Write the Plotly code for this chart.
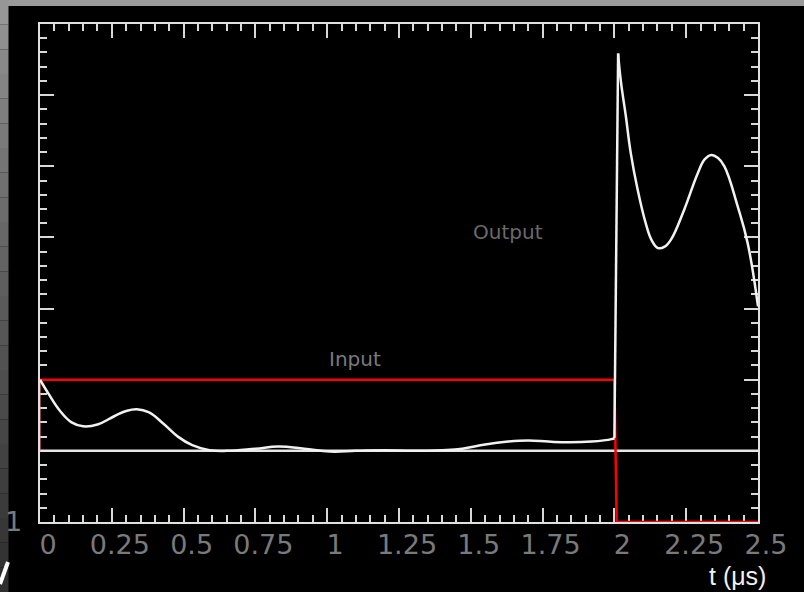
import plotly.graph_objects as go

# ---------------- data ----------------
x_tick_vals = [0, 0.25, 0.5, 0.75, 1, 1.25, 1.5, 1.75, 2, 2.25, 2.5]
x_tick_text = ["0", "0.25", "0.5", "0.75", "1", "1.25", "1.5", "1.75", "2", "2.25", "2.5"]

# Input (red step)
input_t = [0.0, 0.0, 2.0, 2.008, 2.5]
input_v = [1.0, 2.0, 2.0, 0.0, 0.0]

# Baseline (white)
base_t = [0.0, 2.5]
base_v = [1.0, 1.0]

# Output, part 1 (before the switch)
out1_t = [0.0, 0.03, 0.07, 0.11, 0.15, 0.20, 0.26, 0.30, 0.337, 0.38, 0.43, 0.48,
          0.53, 0.59, 0.65, 0.75, 0.83, 0.92, 1.01, 1.10, 1.20, 1.30, 1.40, 1.47,
          1.55, 1.63, 1.70, 1.77, 1.84, 1.92, 1.99, 2.0]
out1_v = [2.0, 1.80, 1.56, 1.40, 1.345, 1.37, 1.49, 1.56, 1.585, 1.54, 1.38, 1.20,
          1.08, 1.01, 1.00, 1.03, 1.06, 1.03, 0.99, 1.00, 1.01, 1.00, 1.01, 1.03,
          1.09, 1.13, 1.145, 1.13, 1.12, 1.13, 1.165, 1.18]

# Output, jump
jump_t = [2.0, 2.013]
jump_v = [1.18, 6.585]

# Output, part 2 (after the switch)
out2_t = [2.013, 2.022, 2.040, 2.057, 2.081, 2.109, 2.130, 2.152, 2.175, 2.197, 2.243, 2.290,
          2.315, 2.338, 2.360, 2.383, 2.429, 2.464, 2.5]
out2_v = [6.585, 6.21, 5.70, 5.185, 4.67, 4.20, 3.96, 3.85, 3.87, 3.97, 4.39, 4.90,
          5.10, 5.16, 5.12, 5.00, 4.44, 3.92, 3.03]

# ---------------- layout geometry ----------------
W, H = 804, 592
L, R, T, B = 40, 46, 24, 70
PW, PH = W - L - R, H - T - B


def px(x):
    return (x - L) / PW


def py(y):
    return (H - B - y) / PH


fig = go.Figure()
fig.add_trace(go.Scatter(x=base_t, y=base_v, mode="lines",
                         line=dict(color="#e6e6e6", width=2.5), hoverinfo="skip"))
# faint left edge of the input step (sits on the frame)
fig.add_trace(go.Scatter(x=input_t[:2], y=input_v[:2], mode="lines",
                         line=dict(color="rgba(255,120,120,0.55)", width=2), hoverinfo="skip"))
fig.add_trace(go.Scatter(x=input_t[1:], y=input_v[1:], mode="lines",
                         line=dict(color="#ff0000", width=2.5), hoverinfo="skip"))
fig.add_trace(go.Scatter(x=out1_t, y=out1_v, mode="lines",
                         line=dict(color="#f2f2f2", width=2.5, shape="spline", smoothing=1.2),
                         hoverinfo="skip"))
fig.add_trace(go.Scatter(x=jump_t, y=jump_v, mode="lines",
                         line=dict(color="#f2f2f2", width=2.5), hoverinfo="skip"))
fig.add_trace(go.Scatter(x=out2_t, y=out2_v, mode="lines",
                         line=dict(color="#f2f2f2", width=2.5, shape="spline", smoothing=1.2),
                         hoverinfo="skip"))

axis_common = dict(
    showline=True, linecolor="#e0e0e0", linewidth=2, mirror="allticks",
    ticks="inside", ticklen=14, tickwidth=1.5, tickcolor="#d8d8d8",
    showgrid=False, zeroline=False, layer="below traces", automargin=False,
)

fig.update_xaxes(
    range=[0, 2.5], tickmode="array", tickvals=x_tick_vals, ticktext=x_tick_text,
    tickfont=dict(family="DejaVu Sans", size=27, color="#7a7a7a"),
    ticklabelstandoff=-2, ticklabelshift=8,
    minor=dict(ticks="inside", ticklen=7, tickwidth=1.5, tickcolor="#d8d8d8",
               tickmode="linear", tick0=0, dtick=0.05, showgrid=False),
    **axis_common,
)
fig.update_yaxes(
    range=[0, 7], tickmode="linear", tick0=0, dtick=1, showticklabels=False,
    minor=dict(ticks="inside", ticklen=7, tickwidth=1.5, tickcolor="#d8d8d8",
               tickmode="linear", tick0=0, dtick=0.2, showgrid=False),
    **axis_common,
)

shapes = []
# top grey band
shapes.append(dict(type="rect", xref="paper", yref="paper",
                   x0=px(0), x1=px(W), y0=py(6), y1=py(0),
                   fillcolor="#9a9a9a", line=dict(width=0), layer="above"))
# left gradient band
n = 24
for i in range(n):
    y0p = i * H / n
    y1p = (i + 1) * H / n
    f = (i + 0.5) / n
    g = int(0x9c + (0x2e - 0x9c) * (f ** 0.8))
    col = "#%02x%02x%02x" % (g, g, g)
    shapes.append(dict(type="rect", xref="paper", yref="paper",
                       x0=px(0), x1=px(8.5), y0=py(y1p), y1=py(y0p),
                       fillcolor=col, line=dict(width=0), layer="above"))
# white stroke bottom left
shapes.append(dict(type="line", xref="paper", yref="paper",
                   x0=px(0), y0=py(584), x1=px(8), y1=py(562),
                   line=dict(color="#ffffff", width=4), layer="above"))

ann_common = dict(xref="paper", yref="paper", showarrow=False,
                  xanchor="center", yanchor="middle")
annotations = [
    dict(text="Output", x=px(508), y=py(232),
         font=dict(family="DejaVu Sans", size=20, color="#6a6a6a"), **ann_common),
    dict(text="Input", x=px(355), y=py(359),
         font=dict(family="DejaVu Sans", size=20, color="#7a7a7a"), **ann_common),
    dict(text="t (μs)", x=px(737), y=py(576),
         font=dict(family="Liberation Sans", size=25, color="#f0f0f0"), **ann_common),
    dict(text="1", x=px(13), y=py(521),
         font=dict(family="DejaVu Sans", size=27, color="#7a7a7a"), **ann_common),
]

fig.update_layout(
    width=W, height=H, autosize=False,
    margin=dict(l=L, r=R, t=T, b=B, pad=0),
    paper_bgcolor="#000000", plot_bgcolor="#000000",
    showlegend=False, shapes=shapes, annotations=annotations,
)

fig.write_html("out.html", config={"displayModeBar": False},
               post_script="document.body.style.margin='0';document.body.style.overflow='hidden';")
